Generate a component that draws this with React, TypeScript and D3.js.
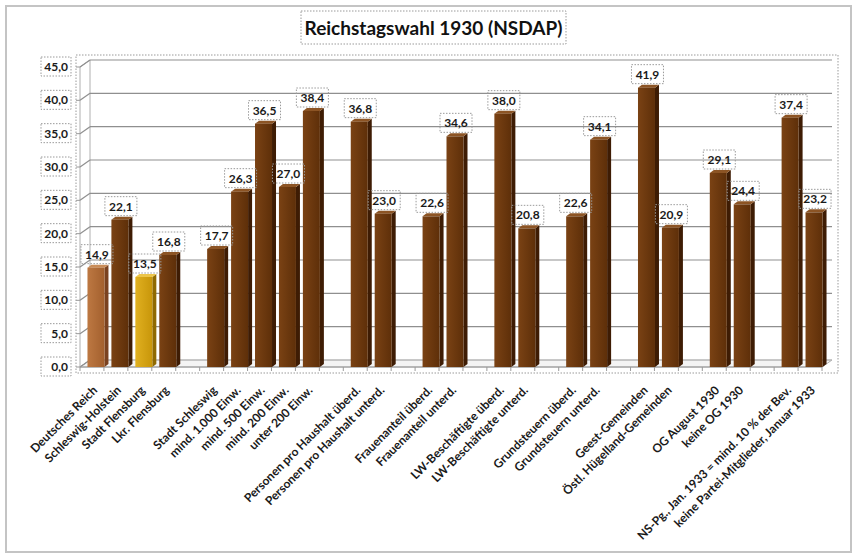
import React from "react";
import * as d3 from "d3";

const categories: string[] = [
  "Deutsches Reich",
  "Schleswig-Holstein",
  "Stadt Flensburg",
  "Lkr. Flensburg",
  "",
  "Stadt Schleswig",
  "mind. 1.000 Einw.",
  "mind. 500 Einw.",
  "mind. 200 Einw.",
  "unter 200 Einw.",
  "",
  "Personen pro Haushalt überd.",
  "Personen pro Haushalt unterd.",
  "",
  "Frauenanteil überd.",
  "Frauenanteil unterd.",
  "",
  "LW-Beschäftigte überd.",
  "LW-Beschäftigte unterd.",
  "",
  "Grundsteuern überd.",
  "Grundsteuern unterd.",
  "",
  "Geest-Gemeinden",
  "Östl. Hügelland-Gemeinden",
  "",
  "OG August 1930",
  "keine OG 1930",
  "",
  "NS-Pg., Jan. 1933  = mind. 10 % der Bev.",
  "keine Partei-Mitglieder, Januar 1933",
];

const values: (number | null)[] = [
  14.9, 22.1, 13.5, 16.8, null, 17.7, 26.3, 36.5, 27.0, 38.4, null, 36.8, 23.0, null,
  22.6, 34.6, null, 38.0, 20.8, null, 22.6, 34.1, null, 41.9, 20.9, null, 29.1, 24.4,
  null, 37.4, 23.2,
];

// colour group for each bar: 0 = standard dark brown, 1 = light brown, 2 = gold
const colorGroup: number[] = [1, 0, 2, 0, 0, 0, 0, 0, 0, 0, 0, 0, 0, 0, 0, 0, 0, 0, 0, 0, 0, 0, 0, 0, 0, 0, 0, 0, 0, 0, 0];

const yTicks: number[] = [0, 5, 10, 15, 20, 25, 30, 35, 40, 45];

const title = "Reichstagswahl 1930 (NSDAP)";

const palettes = [
  { front: ["#7a4214", "#5e2f09"], side: "#3e1c04", top: "#8c5424" },
  { front: ["#bd7842", "#a3602e"], side: "#7a4220", top: "#c98c58" },
  { front: ["#e0b020", "#c8960a"], side: "#8f6a02", top: "#ecc54a" },
];

const W = 857;
const H = 557;
const FONT = "Lato, 'Open Sans', 'DejaVu Sans', sans-serif";

export default function App() {
  const left = 80;
  const right = 822;
  const baseY = 367;
  const dx = 10;
  const dy = -7;

  const x = d3
    .scaleBand<number>()
    .domain(categories.map((_, i) => i))
    .range([84, 826])
    .padding(0);
  const barW = 17;
  const sideW = 4;
  const topH = 3;

  const y = d3.scaleLinear().domain([0, 45]).range([baseY, baseY - 300]);
  const fmt = (v: number) => d3.format(".1f")(v).replace(".", ",");

  const dotted = { fill: "none", stroke: "#9a9a9a", strokeWidth: 1, strokeDasharray: "1.5,1.5" };

  return (
    <svg
      width={W}
      height={H}
      style={{ position: "absolute", left: 0, top: 0, background: "#fff" }}
      fontFamily={FONT}
    >
      <defs>
        {palettes.map((p, i) => (
          <linearGradient key={i} id={`g${i}`} x1="0" x2="1" y1="0" y2="0">
            <stop offset="0" stopColor={p.front[0]} />
            <stop offset="1" stopColor={p.front[1]} />
          </linearGradient>
        ))}
      </defs>
      {/* outer border */}
      <rect x={6} y={6} width={845} height={546} fill="#fff" stroke="#c4c4c4" strokeWidth={2} />

      {/* title */}
      <rect x={301} y={11} width={265} height={33} {...dotted} />
      <text x={433.5} y={35} textAnchor="middle" fontSize={19} fontWeight="bold" fill="#111">
        {title}
      </text>

      {/* plot area border */}
      <rect x={76} y={55} width={762} height={318} {...dotted} />

      {/* floor */}
      <path
        d={`M${left},${baseY} L${right},${baseY} L${right + dx},${baseY + dy} L${left + dx},${baseY + dy} Z`}
        fill="#f4f4f4"
        stroke="#b0b0b0"
        strokeWidth={1}
      />
      {/* left wall */}
      <path
        d={`M${left},${baseY} L${left},${y(45)} L${left + dx},${y(45) + dy} L${left + dx},${baseY + dy} Z`}
        fill="none"
        stroke="#b0b0b0"
        strokeWidth={1}
      />
      {/* gridlines */}
      {yTicks.map((t) => (
        <g key={t}>
          <line
            x1={left + dx}
            x2={right + dx}
            y1={y(t) + dy}
            y2={y(t) + dy}
            stroke={t === 0 ? "#b8b8b8" : "#8f8f8f"}
            strokeWidth={1.2}
          />
          <line x1={left} x2={left + dx} y1={y(t)} y2={y(t) + dy} stroke="#8f8f8f" strokeWidth={1.2} />
          <line x1={left - 4} x2={left} y1={y(t)} y2={y(t)} stroke="#9a9a9a" />
        </g>
      ))}
      {/* front axis ticks */}
      {d3.range(categories.length + 1).map((i) => {
        const xx = left + (i * (right - left)) / categories.length;
        return <line key={i} x1={xx} x2={xx} y1={baseY} y2={baseY + 4} stroke="#9a9a9a" />;
      })}
      <line x1={left} x2={right} y1={baseY} y2={baseY} stroke="#9a9a9a" />

      {/* y labels */}
      {yTicks.map((t) => (
        <g key={t}>
          <rect x={41} y={y(t) - 10} width={30} height={19} {...dotted} />
          <text x={68} y={y(t) + 4} textAnchor="end" fontSize={12} fontWeight="bold" fill="#1a1a1a">
            {fmt(t)}
          </text>
        </g>
      ))}

      {/* bars */}
      {values.map((v, i) => {
        if (v == null) return null;
        const p = palettes[colorGroup[i]];
        const cx = (x(i) as number) + x.bandwidth() / 2;
        const x0 = cx - barW / 2;
        const top = y(v);
        return (
          <g key={i}>
            <path
              d={`M${x0 + barW},${top} L${x0 + barW + sideW},${top - topH} L${x0 + barW + sideW},${baseY - topH} L${x0 + barW},${baseY} Z`}
              fill={p.side}
            />
            <path
              d={`M${x0},${top} L${x0 + sideW},${top - topH} L${x0 + barW + sideW},${top - topH} L${x0 + barW},${top} Z`}
              fill={p.top}
            />
            <rect x={x0} y={top} width={barW} height={baseY - top} fill={`url(#g${colorGroup[i]})`} />
          </g>
        );
      })}

      {/* value labels */}
      {values.map((v, i) => {
        if (v == null) return null;
        const cx = (x(i) as number) + x.bandwidth() / 2 + 1;
        const ty = y(v) - 9;
        return (
          <g key={i}>
            <rect x={cx - 16} y={ty - 14} width={32} height={19} {...dotted} />
            <text x={cx} y={ty} textAnchor="middle" fontSize={12} fontWeight="bold" fill="#1a1a1a">
              {fmt(v)}
            </text>
          </g>
        );
      })}

      {/* x labels */}
      {categories.map((c, i) => {
        if (!c) return null;
        const cx = (x(i) as number) + x.bandwidth() / 2 + 2;
        return (
          <text
            key={i}
            transform={`translate(${cx},${baseY + 24}) rotate(-45)`}
            textAnchor="end"
            fontSize={12}
            fontWeight="bold"
            fill="#1a1a1a"
          >
            {c}
          </text>
        );
      })}
    </svg>
  );
}
